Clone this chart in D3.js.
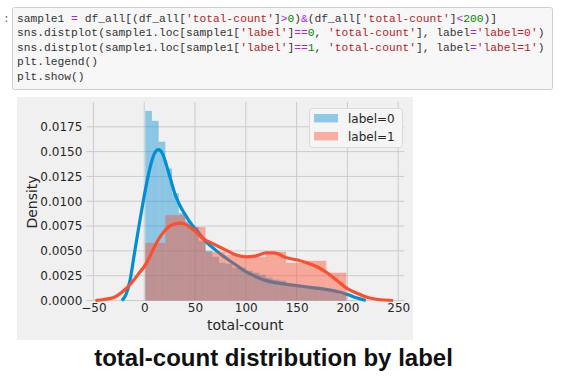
<!DOCTYPE html>
<html><head><meta charset="utf-8">
<script src="https://cdn.jsdelivr.net/npm/d3@7"></script>
<style>
html,body{margin:0;padding:0;background:#fff;}
svg{display:block;}
</style></head>
<body>
<script>
// ---- data ----
const codeLines = [
  "sample1 = df_all[(df_all['total-count']>0)&(df_all['total-count']<200)]",
  "sns.distplot(sample1.loc[sample1['label']==0, 'total-count'], label='label=0')",
  "sns.distplot(sample1.loc[sample1['label']==1, 'total-count'], label='label=1')",
  "plt.legend()",
  "plt.show()"
];
const seriesNames = ["label=0", "label=1"];
const xTicks = [-50, 0, 50, 100, 150, 200, 250];
const yTicks = [0, 0.0025, 0.005, 0.0075, 0.01, 0.0125, 0.015, 0.0175];
const xLabel = "total-count";
const yLabel = "Density";
const titleText = "total-count distribution by label";

// histogram of label=0: 30 bins over [1,199]
const blueRange = [1, 199];
const blueDensity = [0.0191, 0.0181, 0.0160, 0.0133, 0.0108, 0.0088, 0.0080, 0.0074, 0.0060, 0.0050,
                     0.0044, 0.0038, 0.0037, 0.0033, 0.0033, 0.0030, 0.0028, 0.0026, 0.0023, 0.0021,
                     0.0020, 0.0017, 0.0016, 0.0015, 0.0014, 0.0013, 0.0012, 0.0010, 0.0009, 0.0006];
// histogram of label=1: 10 bins over [1,199]
const redRange = [1, 199];
const redDensity = [0.0058, 0.0086, 0.0074, 0.0049, 0.0046, 0.0044, 0.0049, 0.0038, 0.0040, 0.0028];

// KDE curves (x, density)
const blueKdeX = [-22, -18, -14, -10, -6, -2, 2, 6, 10, 14, 18, 22, 26, 30, 35, 40, 45, 53, 61, 70, 80, 90, 100, 110, 120, 135, 150, 165, 180, 190, 200, 208, 218];
const blueKdeY = [0, 0.0006, 0.0020, 0.0045, 0.0070, 0.0094, 0.0116, 0.0135, 0.0148, 0.0152, 0.0148, 0.0136, 0.0122, 0.0108, 0.0096, 0.0087, 0.0079, 0.0069, 0.0059, 0.0051, 0.0043, 0.0036, 0.0029, 0.0024, 0.0020, 0.0017, 0.0015, 0.0013, 0.0011, 0.0009, 0.0006, 0.0003, 0];
const redKdeX = [-48, -40, -30, -20, -10, -4, 0, 5, 10, 15, 20, 25, 30, 35, 40, 45, 50, 55, 60, 66, 72, 80, 90, 100, 110, 120, 128, 140, 150, 160, 170, 180, 190, 200, 210, 220, 230, 245];
const redKdeY = [0, 0.0001, 0.0003, 0.0010, 0.0021, 0.0029, 0.0034, 0.0043, 0.0054, 0.0063, 0.0070, 0.0075, 0.0077, 0.0078, 0.0077, 0.0074, 0.0070, 0.0065, 0.0061, 0.0058, 0.0055, 0.0051, 0.0046, 0.0044, 0.0045, 0.0048, 0.0048, 0.0043, 0.0041, 0.0038, 0.0034, 0.0028, 0.0020, 0.0012, 0.0007, 0.0003, 0.0001, 0];

// ---- drawing ----
const W = 570, H = 380;
const svg = d3.select("body").append("svg").attr("width", W).attr("height", H);

// notebook code cell
svg.append("text").attr("x", 3).attr("y", 22).attr("font-family", "Liberation Mono, monospace")
  .attr("font-size", 11.27).attr("fill", "#666").text(":");
svg.append("rect").attr("x", 12.5).attr("y", 7.5).attr("width", 540).attr("height", 82)
  .attr("fill", "#f7f7f7").attr("stroke", "#cfcfcf").attr("rx", 2);

function tokenize(line) {
  const re = /('[^']*')|(==|=|>|<|&)|(\b\d+\b)|([^'=><&\d]+|\d)/g;
  const out = []; let m;
  while ((m = re.exec(line)) !== null) {
    if (m[1]) out.push({t: m[1], c: "#ba2121"});
    else if (m[2]) out.push({t: m[2], c: "#aa22ff"});
    else if (m[3]) out.push({t: m[3], c: "#008800"});
    else out.push({t: m[0], c: "#333333"});
  }
  return out;
}
const code = svg.append("g").attr("font-family", "Liberation Mono, monospace").attr("font-size", 11.27);
codeLines.forEach((ln, i) => {
  const t = code.append("text").attr("x", 17).attr("y", 21.5 + i * 14.5).attr("xml:space", "preserve");
  tokenize(ln).forEach(tok => t.append("tspan").attr("fill", tok.c).text(tok.t));
});

// figure background
svg.append("rect").attr("x", 17).attr("y", 97).attr("width", 396).attr("height", 243).attr("fill", "#f0f0f0");

const x = d3.scaleLinear().domain([-57, 256]).range([86.3, 404.3]);
const y = d3.scaleLinear().domain([0, 0.02]).range([300.5, 102]);

const plot = svg.append("g");
// grid
plot.append("g").selectAll("line").data(xTicks).join("line")
  .attr("x1", d => x(d)).attr("x2", d => x(d)).attr("y1", y(0)).attr("y2", y(0.02))
  .attr("stroke", "#cbcbcb").attr("stroke-width", 1);
plot.append("g").selectAll("line").data(yTicks).join("line")
  .attr("x1", x(-57)).attr("x2", x(256)).attr("y1", d => y(d)).attr("y2", d => y(d))
  .attr("stroke", "#cbcbcb").attr("stroke-width", 1);

const blue = "#008fd5", red = "#fc4f30";
function bins(range, dens) {
  const w = (range[1] - range[0]) / dens.length;
  return dens.map((d, i) => ({x0: range[0] + i * w, x1: range[0] + (i + 1) * w, d}));
}
const line = d3.line().x(d => x(d[0])).y(d => y(d[1])).curve(d3.curveMonotoneX);

plot.append("g").selectAll("rect").data(bins(blueRange, blueDensity)).join("rect")
  .attr("x", d => x(d.x0)).attr("width", d => x(d.x1) - x(d.x0))
  .attr("y", d => y(d.d)).attr("height", d => y(0) - y(d.d))
  .attr("fill", blue).attr("fill-opacity", 0.42);
plot.append("path").datum(d3.zip(blueKdeX, blueKdeY)).attr("d", line)
  .attr("fill", "none").attr("stroke", blue).attr("stroke-width", 3.2);
plot.append("g").selectAll("rect").data(bins(redRange, redDensity)).join("rect")
  .attr("x", d => x(d.x0)).attr("width", d => x(d.x1) - x(d.x0))
  .attr("y", d => y(d.d)).attr("height", d => y(0) - y(d.d))
  .attr("fill", red).attr("fill-opacity", 0.45);
plot.append("path").datum(d3.zip(redKdeX, redKdeY)).attr("d", line)
  .attr("fill", "none").attr("stroke", red).attr("stroke-width", 3.2);

// axes labels
const xAxis = d3.axisBottom(x).tickValues(xTicks).tickSize(0).tickPadding(3)
  .tickFormat(d => d < 0 ? "\u2212" + Math.abs(d) : d);
const gx = svg.append("g").attr("transform", `translate(0,${y(0)})`).call(xAxis);
gx.select(".domain").remove();
gx.selectAll("text").attr("font-family", "DejaVu Sans").attr("font-size", 12).attr("fill", "#262626");

const yAxis = d3.axisLeft(y).tickValues(yTicks).tickSize(0).tickPadding(4).tickFormat(d3.format(".4f"));
const gy = svg.append("g").attr("transform", `translate(${x(-57)},0)`).call(yAxis);
gy.select(".domain").remove();
gy.selectAll("text").attr("font-family", "DejaVu Sans").attr("font-size", 12).attr("fill", "#262626");

svg.append("text").attr("x", (x(-57) + x(256)) / 2).attr("y", 330).attr("text-anchor", "middle")
  .attr("font-family", "DejaVu Sans").attr("font-size", 14).attr("fill", "#262626").text(xLabel);
svg.append("text").attr("transform", "translate(37,202) rotate(-90)").attr("text-anchor", "middle")
  .attr("font-family", "DejaVu Sans").attr("font-size", 14).attr("fill", "#262626").text(yLabel);

// legend
const lg = svg.append("g");
lg.append("rect").attr("x", 309.5).attr("y", 108.5).attr("width", 93).attr("height", 39).attr("rx", 3)
  .attr("fill", "#f5f5f5").attr("stroke", "#dadada");
seriesNames.forEach((n, i) => {
  lg.append("rect").attr("x", 314).attr("y", 114 + i * 18).attr("width", 24).attr("height", 8.4)
    .attr("fill", [blue, red][i]).attr("fill-opacity", 0.42);
  lg.append("text").attr("x", 348).attr("y", 122.5 + i * 18).attr("font-family", "DejaVu Sans")
    .attr("font-size", 12).attr("fill", "#262626").text(n);
});

// caption
svg.append("text").attr("x", 273.5).attr("y", 366).attr("text-anchor", "middle")
  .attr("font-family", "Liberation Sans, Arial").attr("font-weight", "bold").attr("font-size", 24)
  .attr("fill", "#111").text(titleText);
</script>
</body></html>
